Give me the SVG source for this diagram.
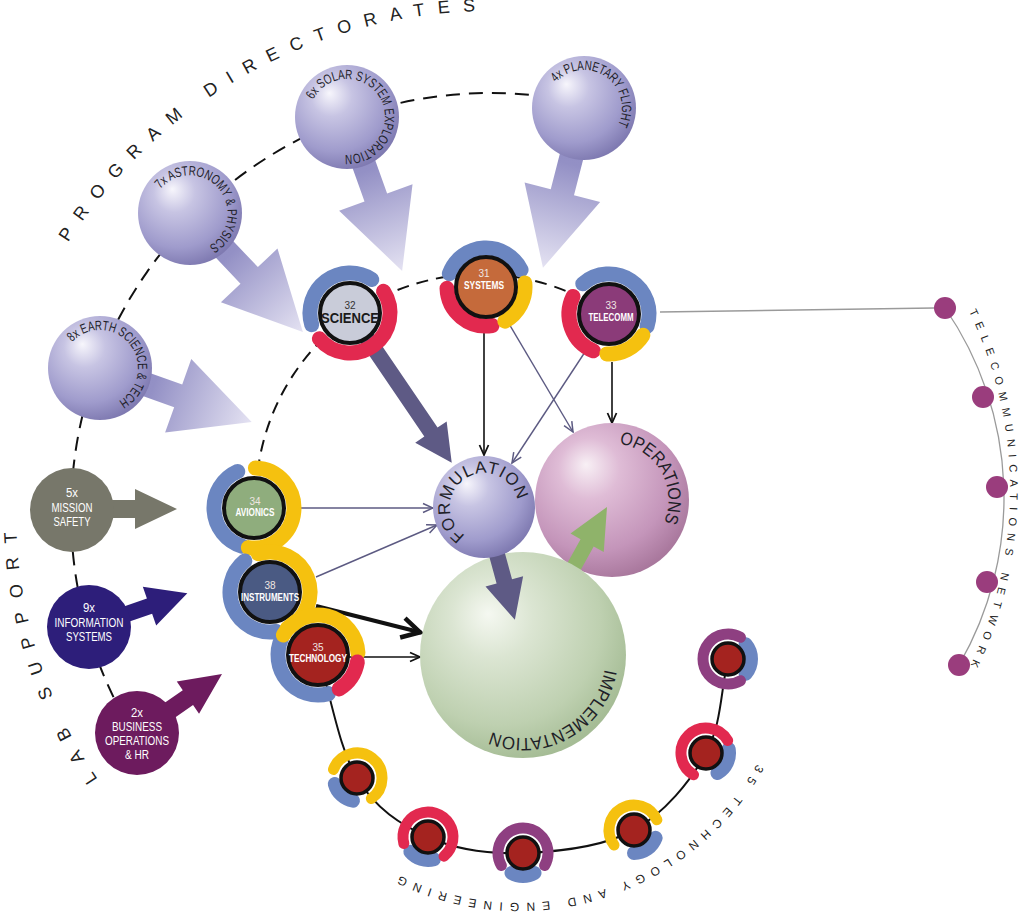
<svg xmlns="http://www.w3.org/2000/svg" width="1026" height="915" viewBox="0 0 1026 915">
<defs>
<style>
text{font-family:"Liberation Sans",Arial,sans-serif}
.band{fill:none;stroke-width:15;stroke-linecap:round}
.sband{fill:none;stroke-width:11;stroke-linecap:round}
.bblob{fill:none;stroke-width:14;stroke-linecap:round}
.b{stroke:#6b86c1}.r{stroke:#e2294f}.y{stroke:#f5c10f}.p{stroke:#8e3f81}
.node{stroke:#111;stroke-width:4}
.small{stroke:#111;stroke-width:3.5;fill:#a4231f}
.net{fill:#9a3d7d}
.num{font-size:10px;fill:#efe6e2;text-anchor:middle}
.name{font-size:11px;font-weight:bold;fill:#fff;text-anchor:middle}
.sph{font-size:13.5px;fill:#1f1f2a}
.big{font-size:18px;fill:#1f1f28}
.title{font-size:18px;fill:#222}
.lab{font-size:12.5px;fill:#fff;text-anchor:middle}
.dash{fill:none;stroke:#111;stroke-width:2;stroke-dasharray:14 9}
.dash2{fill:none;stroke:#111;stroke-width:2;stroke-dasharray:12 8}
.thin{stroke:#5c5a82;stroke-width:1.4;fill:none}
.blk{stroke:#111;stroke-width:1.6;fill:none}
.lavArrow{fill:url(#gArrow)}
.dark{fill:#5e5a85}
</style>
<radialGradient id="gLav" cx="0.4" cy="0.36" r="0.66" fx="0.33" fy="0.27">
<stop offset="0" stop-color="#f7f6fc"/><stop offset="0.3" stop-color="#c7c4e3"/><stop offset="0.75" stop-color="#9f9bcc"/><stop offset="1" stop-color="#7f7ab1"/>
</radialGradient>
<radialGradient id="gPink" cx="0.4" cy="0.36" r="0.66" fx="0.33" fy="0.27">
<stop offset="0" stop-color="#f8f0f5"/><stop offset="0.3" stop-color="#dfbcd6"/><stop offset="0.75" stop-color="#c495ba"/><stop offset="1" stop-color="#a9789d"/>
</radialGradient>
<radialGradient id="gGreen" cx="0.4" cy="0.36" r="0.66" fx="0.33" fy="0.3">
<stop offset="0" stop-color="#f5f8f1"/><stop offset="0.3" stop-color="#dbe5d2"/><stop offset="0.75" stop-color="#bed0b0"/><stop offset="1" stop-color="#a5bc95"/>
</radialGradient>
<linearGradient id="gArrow" x1="0" y1="0" x2="1" y2="0">
<stop offset="0" stop-color="#8f8bc2"/><stop offset="0.35" stop-color="#9390c5"/><stop offset="1" stop-color="#e4e2f2"/>
</linearGradient>
<marker id="mG" markerUnits="userSpaceOnUse" viewBox="0 0 12 12" refX="11" refY="6" markerWidth="12" markerHeight="12" orient="auto"><path d="M1,1.5 L11,6 L1,10.5" fill="none" stroke="#5c5a82" stroke-width="1.5"/></marker>
<marker id="mK" markerUnits="userSpaceOnUse" viewBox="0 0 12 12" refX="11" refY="6" markerWidth="12" markerHeight="12" orient="auto"><path d="M1,1.5 L11,6 L1,10.5" fill="none" stroke="#111" stroke-width="1.8"/></marker>
<marker id="mBig" markerUnits="userSpaceOnUse" viewBox="0 0 24 24" refX="22" refY="12" markerWidth="24" markerHeight="24" orient="auto"><path d="M3,2 L21,12 L3,22" fill="none" stroke="#111" stroke-width="4.5"/></marker>
<path id="pPD" d="M36.04,300.85 A502,502 0 0 1 578.17,18.63"/>
<path id="pLS" d="M127.15,818.33 A475,475 0 0 1 17.8,471.58"/>
<path id="pTN" d="M936.05,255.4 A409,409 0 0 1 936.05,724.6"/>
<path id="pTE" d="M775.54,723.37 A273,273 0 0 1 362.41,853.63"/>
<path id="pEarth" d="M72.21,342.08 A38,38 0 0 1 127.79,393.92 A38,38 0 0 1 68.13,347.30"/>
<path id="pAstro" d="M160.47,189.09 A38,38 0 0 1 219.53,236.91 A38,38 0 0 1 156.76,194.58"/>
<path id="pSolar" d="M313.14,99.75 A38,38 0 0 1 380.86,134.25 A38,38 0 0 1 310.66,105.89"/>
<path id="pPlan" d="M555.76,82.57 A38,38 0 0 1 612.24,133.43 A38,38 0 0 1 551.78,87.86"/>
<path id="pForm" d="M465.18,535.32 A34,34 0 0 1 502.82,478.68 A34,34 0 0 1 470.39,538.16"/>
<path id="pOps" d="M619.28,443.97 A56.5,56.5 0 0 1 604.72,556.03 A56.5,56.5 0 0 1 609.44,443.56"/>
<path id="pImpl" d="M604.74,669.41 A83,83 0 0 1 441.26,640.59 A83,83 0 0 1 606,655"/>
</defs>
<rect width="1026" height="915" fill="#fff"/>

<g id="ring-labels">
<text class="title"><textPath href="#pPD" startOffset="66.6" textLength="487" lengthAdjust="spacing">PROGRAM DIRECTORATES</textPath></text>
<text class="title"><textPath href="#pLS" startOffset="48.9" textLength="263.6" lengthAdjust="spacing">LAB SUPPORT</textPath></text>
<text style="font-size:11px;fill:#222"><textPath href="#pTN" startOffset="65" textLength="366" lengthAdjust="spacing">TELECOMMUNICATIONS NETWORK</textPath></text>
<text style="font-size:12px;fill:#222"><textPath href="#pTE" startOffset="44.8" textLength="411.7" lengthAdjust="spacing">35 TECHNOLOGY AND ENGINEERING</textPath></text>
</g>

<g id="connectors">
<path class="dash" d="M113.5,697.1 A420,420 0 0 1 534.9,95.3"/>
<path class="dash2" d="M257.7,471.2 A224.5,224.5 0 0 1 568.2,292"/>
<path fill="none" stroke="#111" stroke-width="2" d="M318,655 C331,696 338.7,747.7 357,778 C375.3,808.3 400.3,824.5 428,837 C455.7,849.5 488.7,854.2 523,853 C557.3,851.8 603.5,846.7 634,830 C664.5,813.3 690.3,781.5 706,753 C721.7,724.5 720.7,690.3 728,659"/>
<path fill="none" stroke="#9a9a9a" stroke-width="1.3" d="M945,308 A334,334 0 0 1 959,665"/>
<line x1="660" y1="312" x2="934" y2="308" stroke="#9a9a9a" stroke-width="1.3"/>
<polygon class="lavArrow" points="0,-12 83,-12 83,-39 161,0 83,39 83,12 0,12" transform="translate(100,368) rotate(19.6)"/>
<polygon class="lavArrow" points="0,-12 86,-12 86,-39 164,0 86,39 86,12 0,12" transform="translate(190,213) rotate(46.5)"/>
<polygon class="lavArrow" points="0,-12 85.5,-12 85.5,-39 163.5,0 85.5,39 85.5,12 0,12" transform="translate(347,117) rotate(70.3)"/>
<polygon class="lavArrow" points="0,-12 87,-12 87,-39 165,0 87,39 87,12 0,12" transform="translate(584,108) rotate(104.4)"/>
<polygon fill="#77776a" points="100,500 135,500 135,489 177,509 135,529 135,518 100,518"/>
<polygon fill="#2d1e7a" points="0,-8 64,-8 64,-20.5 104,0 64,20.5 64,8 0,8" transform="translate(89,627) rotate(-19)"/>
<polygon fill="#6d1b5e" points="0,-9 62,-9 62,-19.5 103.5,0 62,19.5 62,9 0,9" transform="translate(137,733) rotate(-34.8)"/>
<polygon class="dark" points="0,-8 144,-8 144,-19 181,0 144,19 144,8 0,8" transform="translate(350,313) rotate(55.8)"/>
<line class="thin" x1="296" y1="508" x2="433" y2="508" marker-end="url(#mG)"/>
<line class="thin" x1="316" y1="577" x2="437" y2="525" marker-end="url(#mG)"/>
<line x1="316" y1="606" x2="421" y2="632.5" stroke="#111" stroke-width="4" marker-end="url(#mBig)"/>
<line class="blk" x1="348" y1="657" x2="420" y2="657" marker-end="url(#mK)"/>
<line class="blk" x1="484" y1="320" x2="484" y2="455" marker-end="url(#mK)"/>
<line class="thin" x1="508" y1="322" x2="573" y2="432" marker-end="url(#mG)"/>
<line class="thin" x1="585" y1="352" x2="512" y2="463" marker-end="url(#mG)"/>
<line class="blk" x1="612" y1="362" x2="612" y2="423" marker-end="url(#mK)"/>
</g>

<g id="earth"><circle cx="100" cy="368" r="52" fill="url(#gLav)"/>
<text class="sph"><textPath href="#pEarth" textLength="131" lengthAdjust="spacingAndGlyphs">8x EARTH SCIENCE &amp; TECH</textPath></text></g>
<g id="astronomy"><circle cx="190" cy="213" r="52" fill="url(#gLav)"/>
<text class="sph"><textPath href="#pAstro" textLength="132" lengthAdjust="spacingAndGlyphs">7x ASTRONOMY &amp; PHYSICS</textPath></text></g>
<g id="solar"><circle cx="347" cy="117" r="52" fill="url(#gLav)"/>
<text class="sph"><textPath href="#pSolar" textLength="163" lengthAdjust="spacingAndGlyphs">6x SOLAR SYSTEM EXPLORATION</textPath></text></g>
<g id="planetary"><circle cx="584" cy="108" r="52" fill="url(#gLav)"/>
<text class="sph"><textPath href="#pPlan" textLength="109" lengthAdjust="spacingAndGlyphs">4x PLANETARY FLIGHT</textPath></text></g>

<g id="mission-safety"><circle cx="72" cy="510" r="42" fill="#77776a"/>
<text class="lab" x="72" y="497" textLength="12" lengthAdjust="spacingAndGlyphs">5x</text>
<text class="lab" x="72" y="512" textLength="41" lengthAdjust="spacingAndGlyphs">MISSION</text>
<text class="lab" x="72" y="526" textLength="37" lengthAdjust="spacingAndGlyphs">SAFETY</text></g>
<g id="information-systems"><circle cx="89" cy="627" r="42" fill="#2d1e7a"/>
<text class="lab" x="89" y="612" textLength="12" lengthAdjust="spacingAndGlyphs">9x</text>
<text class="lab" x="89" y="626.5" textLength="69" lengthAdjust="spacingAndGlyphs">INFORMATION</text>
<text class="lab" x="89" y="640.5" textLength="46" lengthAdjust="spacingAndGlyphs">SYSTEMS</text></g>
<g id="business-operations"><circle cx="137" cy="733" r="42" fill="#6d1b5e"/>
<text class="lab" x="137" y="716.5" textLength="12" lengthAdjust="spacingAndGlyphs">2x</text>
<text class="lab" x="137" y="731" textLength="50" lengthAdjust="spacingAndGlyphs">BUSINESS</text>
<text class="lab" x="137" y="745" textLength="64" lengthAdjust="spacingAndGlyphs">OPERATIONS</text>
<text class="lab" x="137" y="759" textLength="24" lengthAdjust="spacingAndGlyphs">&amp; HR</text></g>

<g id="operations"><circle cx="612" cy="500" r="77" fill="url(#gPink)"/>
<text class="big"><textPath href="#pOps" textLength="104" lengthAdjust="spacingAndGlyphs">OPERATIONS</textPath></text></g>
<g id="conn-implementation-operations"><polygon fill="#8fb36a" points="0,-7.5 44,-7.5 44,-19 85,0 44,19 44,7.5 0,7.5" transform="translate(565.8,581.3) rotate(-61)"/></g>
<g id="implementation"><circle cx="523" cy="655" r="103" fill="url(#gGreen)"/>
<text class="big"><textPath href="#pImpl" textLength="148" lengthAdjust="spacingAndGlyphs">IMPLEMENTATION</textPath></text></g>
<g id="conn-formulation-implementation"><polygon class="dark" points="0,-8 77,-8 77,-19.5 117,0 77,19.5 77,8 0,8" transform="translate(484,507) rotate(74.7)"/></g>
<g id="formulation"><circle cx="484" cy="507" r="51" fill="url(#gLav)"/>
<text style="font-size:17px;fill:#1f1f28"><textPath href="#pForm" textLength="133" lengthAdjust="spacing">FORMULATION</textPath></text></g>

<g id="science">
<path class="band b" d="M311.75,324.70 A40,40 0 0 1 371.78,279.45"/>
<path class="band r" d="M383.55,291.22 A40,40 0 0 1 319.36,338.71"/>
<circle class="node" cx="350" cy="313" r="30" fill="#c9ccd9"/>
<text class="num" x="350" y="309" style="fill:#333">32</text>
<text x="350" y="323" text-anchor="middle" style="font-size:14px;font-weight:bold;fill:#1a1a1a" textLength="58" lengthAdjust="spacingAndGlyphs">SCIENCE</text></g>
<g id="systems">
<path class="band b" d="M449.35,273.66 A39,39 0 0 1 521.05,269.90"/>
<path class="band r" d="M492.10,325.52 A39,39 0 0 1 447.02,288.36"/>
<path class="band y" d="M524.79,282.92 A39,39 0 0 1 504.91,321.11"/>
<circle class="node" cx="486" cy="287" r="30" fill="#c56a3b"/>
<text class="num" x="484" y="277">31</text>
<text class="name" x="484" y="289" textLength="40" lengthAdjust="spacingAndGlyphs">SYSTEMS</text></g>
<g id="telecomm">
<path class="band b" d="M582.76,283.81 A40,40 0 0 1 647.04,326.36"/>
<path class="band r" d="M593.37,350.82 A40,40 0 0 1 573.05,296.46"/>
<path class="band y" d="M642.92,335.20 A40,40 0 0 1 606.91,353.94"/>
<circle class="node" cx="609" cy="314" r="30" fill="#8b3b79"/>
<text class="num" x="611" y="309">33</text>
<text class="name" x="611" y="321" textLength="45" lengthAdjust="spacingAndGlyphs">TELECOMM</text></g>
<g id="avionics">
<path class="band b" d="M242.30,546.25 A40,40 0 0 1 237.73,471.46"/>
<path class="band y" d="M255.40,468.02 A40,40 0 1 1 248.43,547.61"/>
<circle class="node" cx="254" cy="508" r="30" fill="#8fad7d"/>
<text class="num" x="255" y="505">34</text>
<text class="name" x="255" y="516" textLength="39" lengthAdjust="spacingAndGlyphs">AVIONICS</text></g>
<g id="instruments">
<path class="band b" d="M276.26,631.51 A40,40 0 0 1 244.83,560.92"/>
<path class="band y" d="M258.30,553.75 A40,40 0 0 1 287.54,627.95"/>
<circle class="node" cx="270" cy="592" r="30" fill="#4a5a83"/>
<text class="num" x="270" y="589">38</text>
<text class="name" x="270" y="601" textLength="58" lengthAdjust="spacingAndGlyphs">INSTRUMENTS</text></g>
<g id="technology">
<path class="band b" d="M328.35,693.64 A40,40 0 0 1 281.75,638.10"/>
<path class="band y" d="M283.36,635.00 A40,40 0 0 1 357.95,652.91"/>
<path class="band r" d="M357.39,661.95 A40,40 0 0 1 339.20,688.92"/>
<circle class="node" cx="318" cy="655" r="30" fill="#a4231f"/>
<text class="num" x="318" y="651">35</text>
<text class="name" x="318" y="662" textLength="58" lengthAdjust="spacingAndGlyphs">TECHNOLOGY</text></g>

<g id="te-node-1">
<path class="bblob b" d="M353.01,800.65 A23,23 0 0 1 334.78,783.95"/>
<path class="sband y" d="M333.51,769.45 A25,25 0 1 1 371.34,798.48"/>
<circle class="small" cx="357" cy="778" r="16"/></g>
<g id="te-node-2">
<path class="bblob b" d="M433.95,859.22 A23,23 0 0 1 410.38,851.78"/>
<path class="sband r" d="M403.85,843.47 A25,25 0 1 1 444.07,856.15"/>
<circle class="small" cx="428" cy="837" r="16"/></g>
<g id="te-node-3">
<path class="bblob b" d="M534.5,872.92 A23,23 0 0 1 511.5,872.92"/>
<path class="sband p" d="M501.35,865.5 A25,25 0 1 1 544.65,865.5"/>
<circle class="small" cx="523" cy="853" r="16"/></g>
<g id="te-node-4">
<path class="bblob b" d="M655.61,837.87 A23,23 0 0 1 634,853"/>
<path class="sband y" d="M614.03,845.05 A25,25 0 1 1 656.84,819.83"/>
<circle class="small" cx="634" cy="830" r="16"/></g>
<g id="te-node-5">
<path class="bblob b" d="M728.65,749.01 A23,23 0 0 1 717.5,772.92"/>
<path class="sband r" d="M693.5,774.65 A25,25 0 1 1 727.65,740.5"/>
<circle class="small" cx="706" cy="753" r="16"/></g>
<g id="te-node-6">
<path class="bblob b" d="M745.62,644.22 A23,23 0 0 1 745.62,673.78"/>
<path class="sband p" d="M740.5,680.65 A25,25 0 1 1 740.5,637.35"/>
<circle class="small" cx="728" cy="659" r="16"/></g>

<g id="tn-node-1"><circle class="net" cx="945" cy="308" r="11"/></g>
<g id="tn-node-2"><circle class="net" cx="983" cy="397" r="11"/></g>
<g id="tn-node-3"><circle class="net" cx="997" cy="487" r="11"/></g>
<g id="tn-node-4"><circle class="net" cx="987" cy="582" r="11"/></g>
<g id="tn-node-5"><circle class="net" cx="959" cy="665" r="11"/></g>
</svg>
